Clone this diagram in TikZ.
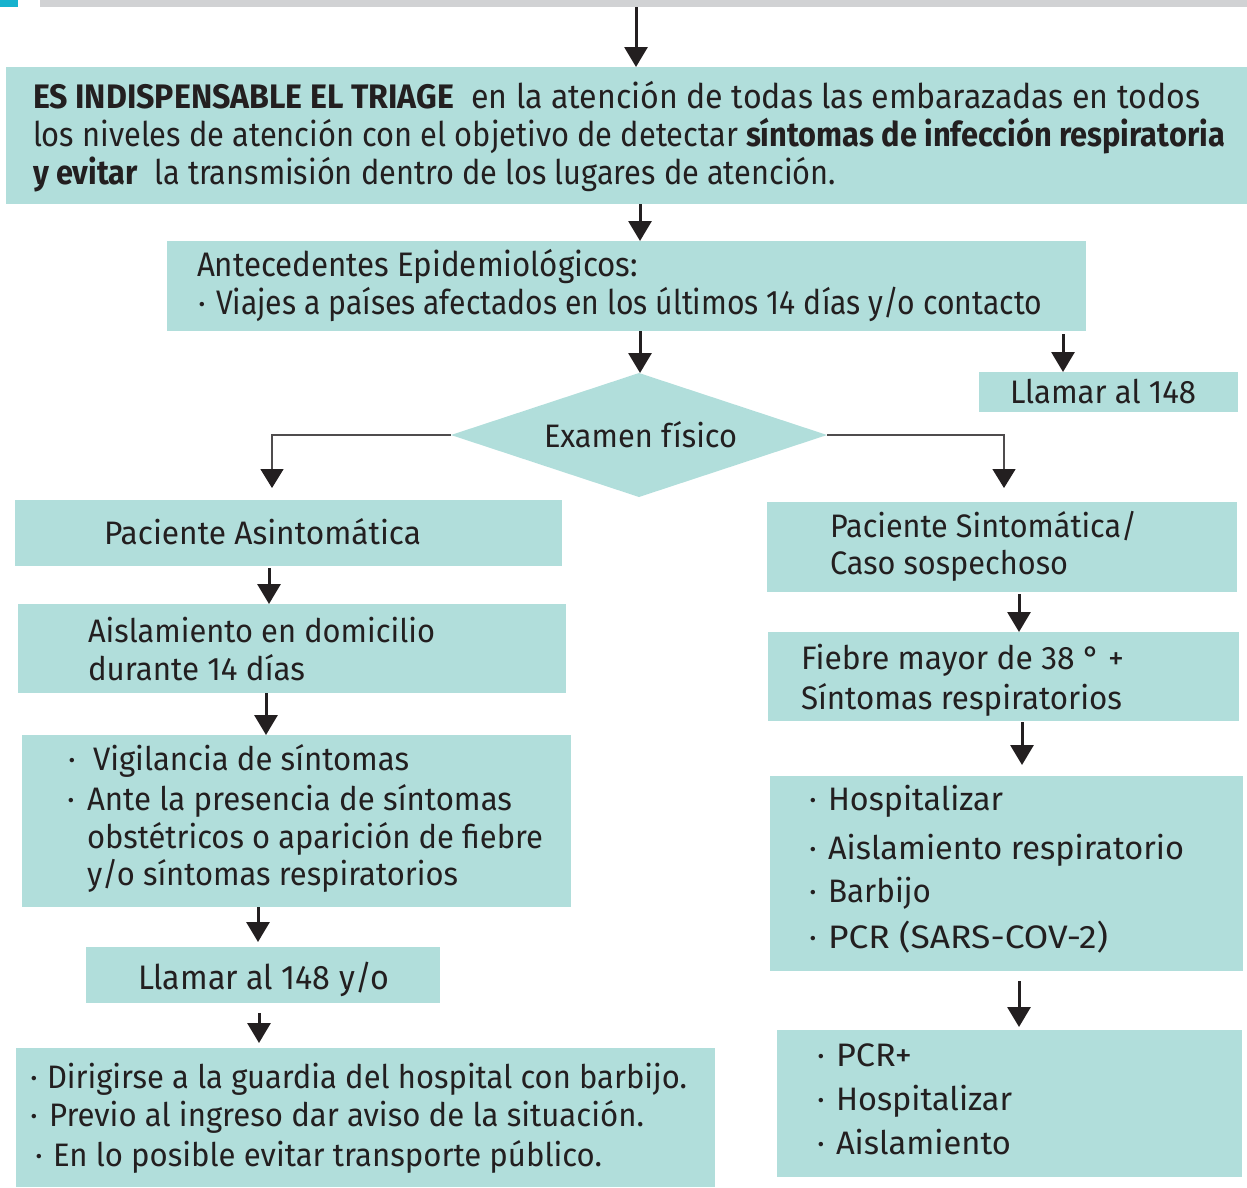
\documentclass[tikz,border=0pt]{standalone}
\usepackage{fontspec}
\setmainfont{Fira Sans}
\usetikzlibrary{arrows.meta,shapes.geometric}
\definecolor{tealfill}{RGB}{177,222,219}
\definecolor{ink}{RGB}{35,31,32}
\definecolor{barg}{RGB}{209,210,212}
\definecolor{cyanq}{RGB}{22,178,206}
\newcommand{\fl}[2]{\resizebox{#1pt}{\height}{#2}}
\newcommand{\mkbox}[5]{\node[boxst, minimum width={#4-#2}, minimum height={#5-#3}] (#1) at ({(#2+#4)/2},{(#3+#5)/2}) {};}
\begin{document}
\begin{tikzpicture}[x=1pt,y=-1pt,
  boxst/.style={fill=tealfill, draw=none, inner sep=0pt, outer sep=0pt, rectangle},
  txt/.style={anchor=base west, inner sep=0pt, outer sep=0pt, text=ink, font=\fontsize{32.5}{39}\selectfont},
  ttxt/.style={txt, font=\fontsize{34}{40}\selectfont},
  bul/.style={anchor=base, inner sep=0pt, outer sep=0pt, text=ink, font=\fontsize{32}{38}\selectfont},
  arr/.style={draw=ink, line width=3pt, -{Triangle[width=23pt,length=20pt]}},
  thinarr/.style={draw=ink!80, line width=1.4pt, -{Triangle[width=23pt,length=19pt,color=ink]}}]
\useasboundingbox (0,0) rectangle (1247,1187);

% top strip
\node[fill=barg, inner sep=0pt, outer sep=0pt, minimum width=1207, minimum height=7] (topbar) at (643.5,3.5) {};
\node[fill=cyanq, inner sep=0pt, outer sep=0pt, minimum width=18, minimum height=7] (topsq) at (9,3.5) {};

% boxes
\mkbox{triage}{6}{67}{1247}{204}
\mkbox{ante}{167}{241}{1086}{331}
\mkbox{llA}{979}{372}{1238}{412}
\node[diamond, fill=tealfill, inner sep=0pt, outer sep=0pt, minimum width=376, minimum height=124] (dia) at (639,435) {};
\mkbox{asin}{15}{500}{562}{566}
\mkbox{aisl}{18}{604}{566}{693}
\mkbox{vig}{22}{735}{571}{907}
\mkbox{llB}{86}{947}{440}{1003}
\mkbox{dir}{16}{1048}{715}{1187}
\mkbox{sint}{767}{502}{1237}{592}
\mkbox{fieb}{768}{632}{1239}{721}
\mkbox{hosp}{770}{776}{1243}{971}
\mkbox{pcr}{777}{1030}{1242}{1177}

% texts
\node[ttxt] (t1) at (33,108.5) {\fl{1167}{\textbf{ES INDISPENSABLE EL TRIAGE}\ \ en la atención de todas las embarazadas en todos}};
\node[ttxt] (t2) at (33,146.5) {\fl{1192}{los niveles de atención con el objetivo de detectar \textbf{síntomas de infección respiratoria}}};
\node[ttxt] (t3) at (33,184.5) {\fl{803}{\textbf{y evitar}\ \ la transmisión dentro de los lugares de atención.}};

\node[ttxt] (t4) at (197,276) {\fl{441}{Antecedentes Epidemiológicos:}};
\node[bul] (b4) at (202,314) {·};
\node[ttxt] (t5) at (216,314) {\fl{826}{Viajes a países afectados en los últimos 14 días y/o contacto}};

\node[txt] (t6) at (1010,403) {\fl{186}{Llamar al 148}};
\node[txt] (t7) at (544,447) {\fl{193}{Examen físico}};

\node[txt] (t8) at (104,544) {\fl{317}{Paciente Asintomática}};
\node[txt] (t9) at (88,642) {\fl{347}{Aislamiento en domicilio}};
\node[txt] (t10) at (88,680) {\fl{217}{durante 14 días}};

\node[bul] (b11) at (72,770) {·};
\node[txt] (t11) at (93,770) {\fl{316}{Vigilancia de síntomas}};
\node[bul] (b12) at (71,810) {·};
\node[txt] (t12) at (87,810) {\fl{425}{Ante la presencia de síntomas}};
\node[txt] (t13) at (87,848) {\fl{456}{obstétricos o aparición de fiebre}};
\node[txt] (t14) at (87,885) {\fl{371}{y/o síntomas respiratorios}};

\node[ttxt] (t15) at (138,989) {\fl{251}{Llamar al 148 y/o}};

\node[bul] (b16) at (34,1088) {·};
\node[txt] (t16) at (47,1088) {\fl{640}{Dirigirse a la guardia del hospital con barbijo.}};
\node[bul] (b17) at (34,1126) {·};
\node[txt] (t17) at (49,1126) {\fl{595}{Previo al ingreso dar aviso de la situación.}};
\node[bul] (b18) at (39,1166) {·};
\node[txt] (t18) at (53,1166) {\fl{549}{En lo posible evitar transporte público.}};

\node[txt] (t19) at (830,537) {\fl{307}{Paciente Sintomática/}};
\node[txt] (t20) at (830,574) {\fl{238}{Caso sospechoso}};
\node[txt] (t21) at (801,669) {\fl{323}{Fiebre mayor de 38 ° +}};
\node[txt] (t22) at (801,709) {\fl{321}{Síntomas respiratorios}};

\node[bul] (b23) at (813,810) {·};
\node[txt] (t23) at (828,810) {\fl{175}{Hospitalizar}};
\node[bul] (b24) at (813,859) {·};
\node[txt] (t24) at (828,859) {\fl{356}{Aislamiento respiratorio}};
\node[bul] (b25) at (813,902) {·};
\node[txt] (t25) at (828,902) {\fl{103}{Barbijo}};
\node[bul] (b26) at (813,948) {·};
\node[txt] (t26) at (828,948) {\fl{280}{PCR (SARS-COV-2)}};

\node[bul] (b27) at (821,1066) {·};
\node[txt] (t27) at (836,1066) {\fl{76}{PCR+}};
\node[bul] (b28) at (821,1110) {·};
\node[txt] (t28) at (836,1110) {\fl{176}{Hospitalizar}};
\node[bul] (b29) at (821,1154) {·};
\node[txt] (t29) at (836,1154) {\fl{175}{Aislamiento}};

% connector x positions
\coordinate (a1) at (636,0);
\coordinate (a2) at (640,0);
\coordinate (a4) at (1063,0);
\coordinate (a5) at (269,0);
\coordinate (a6) at (266,0);
\coordinate (a7) at (258,0);
\coordinate (a8) at (259,0);
\coordinate (a9) at (1019,0);
\coordinate (a10) at (1022,0);
\coordinate (bl) at (272,488);
\coordinate (br) at (1004,488);

% arrows
\draw[arr] (topbar.south -| a1) -- (triage.north -| a1);
\draw[arr] (triage.south -| a2) -- (ante.north -| a2);
\draw[arr] (ante.south -| a2) -- (dia.north -| a2);
\draw[arr, shorten <=3pt] (ante.south -| a4) -- (llA.north -| a4);
\draw[thinarr] (dia.west) -| (bl);
\draw[thinarr] (dia.east) -| (br);
\draw[arr, shorten <=2pt] (asin.south -| a5) -- (aisl.north -| a5);
\draw[arr] (aisl.south -| a6) -- (vig.north -| a6);
\draw[arr, shorten >=5pt] (vig.south -| a7) -- (llB.north -| a7);
\draw[arr, shorten <=10pt, shorten >=5pt] (llB.south -| a8) -- (dir.north -| a8);
\draw[arr, shorten <=2pt] (sint.south -| a9) -- (fieb.north -| a9);
\draw[arr, shorten <=1pt, shorten >=11pt] (fieb.south -| a10) -- (hosp.north -| a10);
\draw[arr, shorten <=10pt, shorten >=3pt] (hosp.south -| a9) -- (pcr.north -| a9);
\end{tikzpicture}
\end{document}
